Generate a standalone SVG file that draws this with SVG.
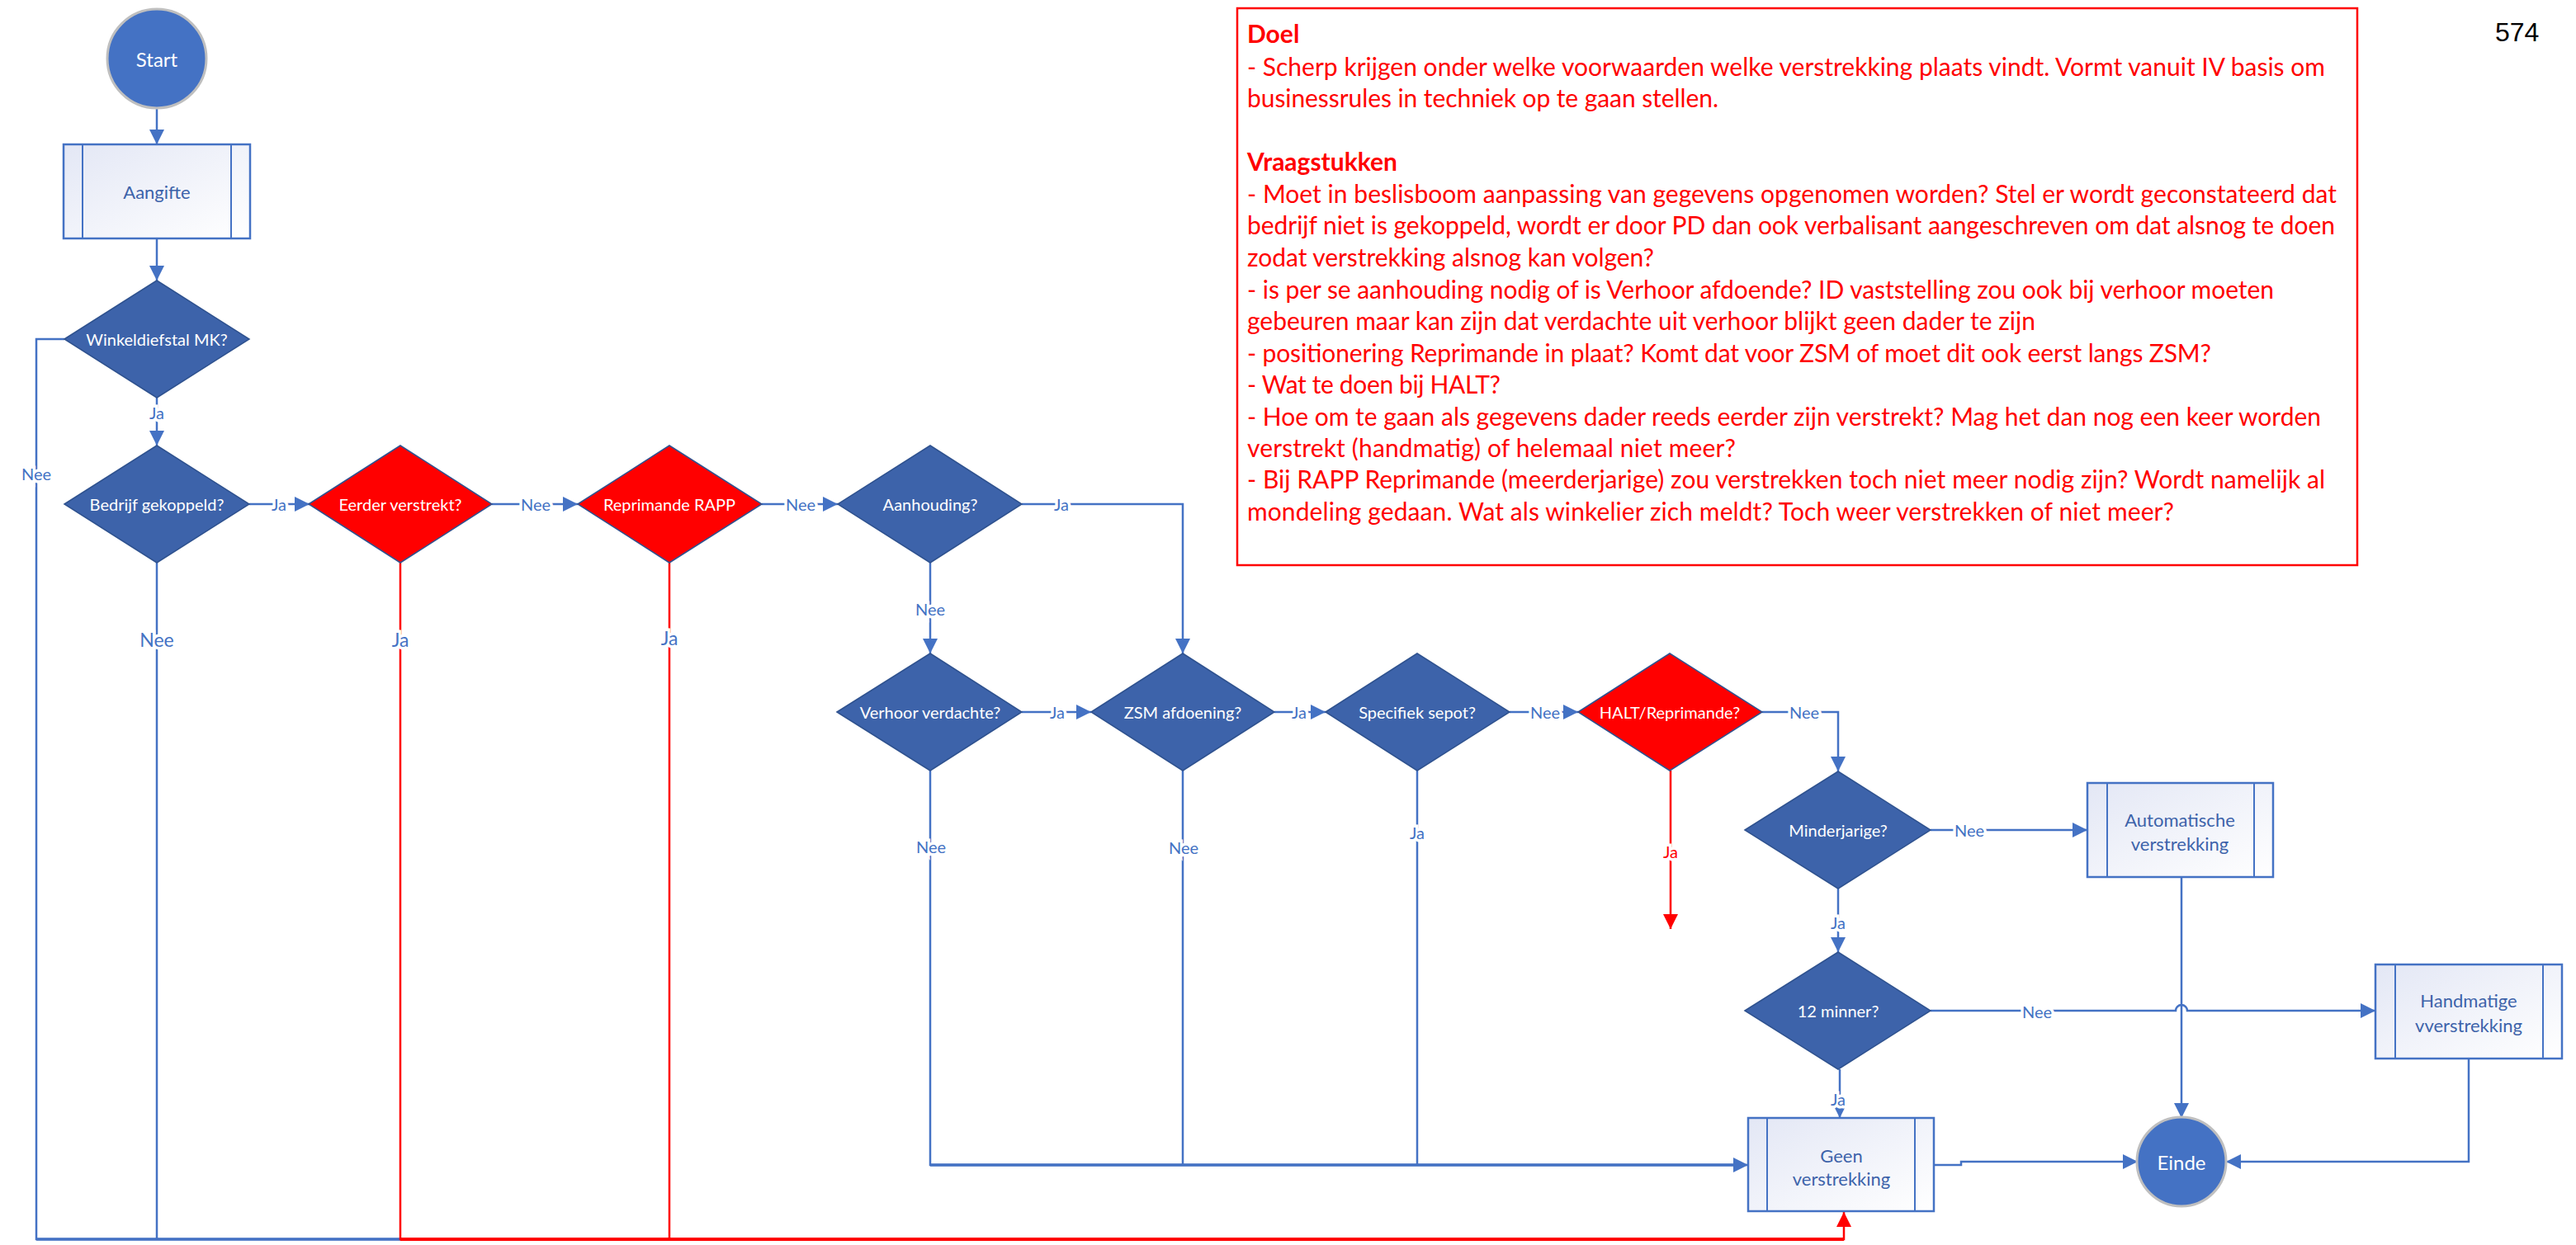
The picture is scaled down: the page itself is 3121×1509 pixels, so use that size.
<svg xmlns="http://www.w3.org/2000/svg" width="3121" height="1509" viewBox="0 0 3121 1509">
<style>
.dia{fill:#3d63aa;stroke:#2f528f;stroke-width:1.5}
.red{fill:#ff0000;stroke:#2f528f;stroke-width:1.5}
.dt{font-family:Lato,'Liberation Sans',sans-serif;font-size:20px;fill:#ffffff;text-anchor:middle;dominant-baseline:central}
.box{fill:url(#g);stroke:#4472c4;stroke-width:2.5}
.inl{stroke:#4472c4;stroke-width:2}
.bt{font-family:Lato,'Liberation Sans',sans-serif;font-size:22px;fill:#3d63aa;text-anchor:middle;dominant-baseline:central}
.term{fill:#4472c4;stroke:#bfbfbf;stroke-width:3}
.tt{font-family:Lato,'Liberation Sans',sans-serif;font-size:24px;fill:#ffffff;text-anchor:middle;dominant-baseline:central}
.cb{fill:none;stroke:#4472c4;stroke-width:2.5}
.cr{fill:none;stroke:#ff0000;stroke-width:2.5}
.lb{font-family:Lato,'Liberation Sans',sans-serif;font-size:20px;fill:#4472c4;text-anchor:middle;dominant-baseline:central;stroke:#ffffff;stroke-width:7;paint-order:stroke}
.big{font-size:23px}
.lr{fill:#ff0000}
.note{font-family:Lato,'Liberation Sans',sans-serif;font-size:30px;fill:#ff0000}
</style>
<defs>
<linearGradient id="g" x1="0" y1="0" x2="1" y2="1">
<stop offset="0" stop-color="#e3e7f5"/>
<stop offset="1" stop-color="#ffffff"/>
</linearGradient>
<marker id="ab" viewBox="0 0 10 10" refX="10" refY="5" markerWidth="18" markerHeight="18" markerUnits="userSpaceOnUse" orient="auto"><path d="M0,0 L10,5 L0,10 z" fill="#4472c4"/></marker>
<marker id="ar" viewBox="0 0 10 10" refX="10" refY="5" markerWidth="18" markerHeight="18" markerUnits="userSpaceOnUse" orient="auto"><path d="M0,0 L10,5 L0,10 z" fill="#ff0000"/></marker>
</defs>
<rect width="3121" height="1509" fill="#ffffff"/>

<g id="connectors">
<path class="cb" d="M190,131 V175" marker-end="url(#ab)"/>
<path class="cb" d="M190,289 V340" marker-end="url(#ab)"/>
<path class="cb" d="M190,482 V540" marker-end="url(#ab)"/>
<path class="cb" d="M78,411 H44 V1502 H485"/>
<path class="cb" style="stroke-width:3.5" d="M44,1502 H485"/>
<path class="cb" d="M190,682 V1502"/>
<path class="cb" d="M302,611 H375" marker-end="url(#ab)"/>
<path class="cb" d="M596,611 H700" marker-end="url(#ab)"/>
<path class="cb" d="M923,611 H1015" marker-end="url(#ab)"/>
<path class="cb" d="M1238,611 H1433 V792" marker-end="url(#ab)"/>
<path class="cb" d="M1127,682 V792" marker-end="url(#ab)"/>
<path class="cb" d="M1238,863 H1322" marker-end="url(#ab)"/>
<path class="cb" d="M1544,863 H1606" marker-end="url(#ab)"/>
<path class="cb" d="M1829,863 H1912" marker-end="url(#ab)"/>
<path class="cb" d="M2135,863 H2227 V935" marker-end="url(#ab)"/>
<path class="cb" d="M1127,934 V1412 H2118" marker-end="url(#ab)"/>
<path class="cb" style="stroke-width:3.5" d="M1127,1412 H2100"/>
<path class="cb" d="M1433,934 V1412"/>
<path class="cb" d="M1717,934 V1412"/>
<path class="cb" d="M2339,1006 H2529" marker-end="url(#ab)"/>
<path class="cb" d="M2227,1077 V1154" marker-end="url(#ab)"/>
<path class="cb" d="M2339,1225 H2636 A7,7 0 0 1 2650,1225 H2878" marker-end="url(#ab)"/>
<path class="cb" d="M2229,1296 V1355" marker-end="url(#ab)"/>
<path class="cb" d="M2343,1412 H2376 V1408 H2590" marker-end="url(#ab)"/>
<path class="cb" d="M2643,1063 V1355" marker-end="url(#ab)"/>
<path class="cb" d="M2991,1283 V1408 H2697" marker-end="url(#ab)"/>
<path class="cr" d="M485,682 V1502 H2234 V1469" marker-end="url(#ar)"/>
<path class="cr" style="stroke-width:4" d="M485,1502 H2234"/>
<path class="cr" d="M811,682 V1502"/>
<path class="cr" d="M2024,934 V1126" marker-end="url(#ar)"/>

<text class="lb" x="190" y="500">Ja</text>
<text class="lb" x="44" y="574">Nee</text>
<text class="lb big" x="190" y="775">Nee</text>
<text class="lb" x="338" y="611">Ja</text>
<text class="lb" x="649" y="611">Nee</text>
<text class="lb" x="970" y="611">Nee</text>
<text class="lb" x="1286" y="611">Ja</text>
<text class="lb" x="1127" y="738">Nee</text>
<text class="lb big" x="485" y="775">Ja</text>
<text class="lb big" x="811" y="773">Ja</text>
<text class="lb" x="1281" y="863">Ja</text>
<text class="lb" x="1574" y="863">Ja</text>
<text class="lb" x="1872" y="863">Nee</text>
<text class="lb" x="2186" y="863">Nee</text>
<text class="lb" x="1128" y="1026">Nee</text>
<text class="lb" x="1434" y="1027">Nee</text>
<text class="lb" x="1717" y="1009">Ja</text>
<text class="lb lr" x="2024" y="1032">Ja</text>
<text class="lb" x="2386" y="1006">Nee</text>
<text class="lb" x="2227" y="1118">Ja</text>
<text class="lb" x="2468" y="1226">Nee</text>
<text class="lb" x="2227" y="1332">Ja</text>
</g>

<g id="start"><ellipse class="term" cx="190" cy="71" rx="60" ry="60"/><text class="tt" x="190" y="71">Start</text></g>
<g id="aangifte"><rect class="box" x="77" y="175" width="226" height="114"/><line class="inl" x1="100" y1="175" x2="100" y2="289"/><line class="inl" x1="280" y1="175" x2="280" y2="289"/><text class="bt" x="190" y="232">Aangifte</text></g>
<g id="winkeldiefstal"><polygon class="dia" points="78,411 190,340 302,411 190,482"/><text class="dt" x="190" y="411">Winkeldiefstal MK?</text></g>
<g id="bedrijf"><polygon class="dia" points="78,611 190,540 302,611 190,682"/><text class="dt" x="190" y="611">Bedrijf gekoppeld?</text></g>
<g id="eerder"><polygon class="red" points="374,611 485,540 596,611 485,682"/><text class="dt" x="485" y="611">Eerder verstrekt?</text></g>
<g id="reprimande"><polygon class="red" points="700,611 811,540 923,611 811,682"/><text class="dt" x="811" y="611">Reprimande RAPP</text></g>
<g id="aanhouding"><polygon class="dia" points="1015,611 1127,540 1238,611 1127,682"/><text class="dt" x="1127" y="611">Aanhouding?</text></g>
<g id="verhoor"><polygon class="dia" points="1014,863 1127,792 1238,863 1127,934"/><text class="dt" x="1127" y="863">Verhoor verdachte?</text></g>
<g id="zsm"><polygon class="dia" points="1322,863 1433,792 1544,863 1433,934"/><text class="dt" x="1433" y="863">ZSM afdoening?</text></g>
<g id="sepot"><polygon class="dia" points="1606,863 1717,792 1829,863 1717,934"/><text class="dt" x="1717" y="863">Specifiek sepot?</text></g>
<g id="halt"><polygon class="red" points="1912,863 2023,792 2135,863 2023,934"/><text class="dt" x="2023" y="863">HALT/Reprimande?</text></g>
<g id="minderjarige"><polygon class="dia" points="2114,1006 2227,935 2339,1006 2227,1077"/><text class="dt" x="2227" y="1006">Minderjarige?</text></g>
<g id="twaalfminner"><polygon class="dia" points="2114,1225 2227,1154 2339,1225 2227,1296"/><text class="dt" x="2227" y="1225">12 minner?</text></g>
<g id="automatische"><rect class="box" x="2529" y="949" width="225" height="114"/><line class="inl" x1="2553" y1="949" x2="2553" y2="1063"/><line class="inl" x1="2731" y1="949" x2="2731" y2="1063"/><text class="bt" x="2641" y="993">Automatische</text><text class="bt" x="2641" y="1022">verstrekking</text></g>
<g id="handmatige"><rect class="box" x="2878" y="1169" width="226" height="114"/><line class="inl" x1="2902" y1="1169" x2="2902" y2="1283"/><line class="inl" x1="3081" y1="1169" x2="3081" y2="1283"/><text class="bt" x="2991" y="1212">Handmatige</text><text class="bt" x="2991" y="1242">vverstrekking</text></g>
<g id="geen"><rect class="box" x="2118" y="1355" width="225" height="113"/><line class="inl" x1="2141" y1="1355" x2="2141" y2="1468"/><line class="inl" x1="2320" y1="1355" x2="2320" y2="1468"/><text class="bt" x="2231" y="1400">Geen</text><text class="bt" x="2231" y="1428">verstrekking</text></g>
<g id="einde"><ellipse class="term" cx="2643" cy="1408" rx="54" ry="54"/><text class="tt" x="2643" y="1408">Einde</text></g>

<g id="notitie">
<rect x="1499" y="10" width="1357" height="675" fill="#ffffff" stroke="#ff0000" stroke-width="2.5"/>
<text class="note" x="1511" y="52" font-weight="bold">Doel</text>
<text class="note" x="1511" y="92" textLength="1306" lengthAdjust="spacing">- Scherp krijgen onder welke voorwaarden welke verstrekking plaats vindt. Vormt vanuit IV basis om</text>
<text class="note" x="1511" y="130" textLength="571" lengthAdjust="spacing">businessrules in techniek op te gaan stellen.</text>
<text class="note" x="1511" y="207" font-weight="bold">Vraagstukken</text>
<text class="note" x="1511" y="246" textLength="1320" lengthAdjust="spacing">- Moet in beslisboom aanpassing van gegevens opgenomen worden? Stel er wordt geconstateerd dat</text>
<text class="note" x="1511" y="284" textLength="1318" lengthAdjust="spacing">bedrijf niet is gekoppeld, wordt er door PD dan ook verbalisant aangeschreven om dat alsnog te doen</text>
<text class="note" x="1511" y="323" textLength="493" lengthAdjust="spacing">zodat verstrekking alsnog kan volgen?</text>
<text class="note" x="1511" y="362" textLength="1244" lengthAdjust="spacing">- is per se aanhouding nodig of is Verhoor afdoende? ID vaststelling zou ook bij verhoor moeten</text>
<text class="note" x="1511" y="400" textLength="955" lengthAdjust="spacing">gebeuren maar kan zijn dat verdachte uit verhoor blijkt geen dader te zijn</text>
<text class="note" x="1511" y="439" textLength="1168" lengthAdjust="spacing">- positionering Reprimande in plaat? Komt dat voor ZSM of moet dit ook eerst langs ZSM?</text>
<text class="note" x="1511" y="477" textLength="307" lengthAdjust="spacing">- Wat te doen bij HALT?</text>
<text class="note" x="1511" y="516" textLength="1301" lengthAdjust="spacing">- Hoe om te gaan als gegevens dader reeds eerder zijn verstrekt? Mag het dan nog een keer worden</text>
<text class="note" x="1511" y="554" textLength="592" lengthAdjust="spacing">verstrekt (handmatig) of helemaal niet meer?</text>
<text class="note" x="1511" y="592" textLength="1306" lengthAdjust="spacing">- Bij RAPP Reprimande (meerderjarige) zou verstrekken toch niet meer nodig zijn? Wordt namelijk al</text>
<text class="note" x="1511" y="631" textLength="1123" lengthAdjust="spacing">mondeling gedaan. Wat als winkelier zich meldt? Toch weer verstrekken of niet meer?</text>
</g>
<text id="pagenr" x="3023" y="50" font-family="'Liberation Sans',Arial,sans-serif" font-size="32" fill="#000000">574</text>
</svg>
